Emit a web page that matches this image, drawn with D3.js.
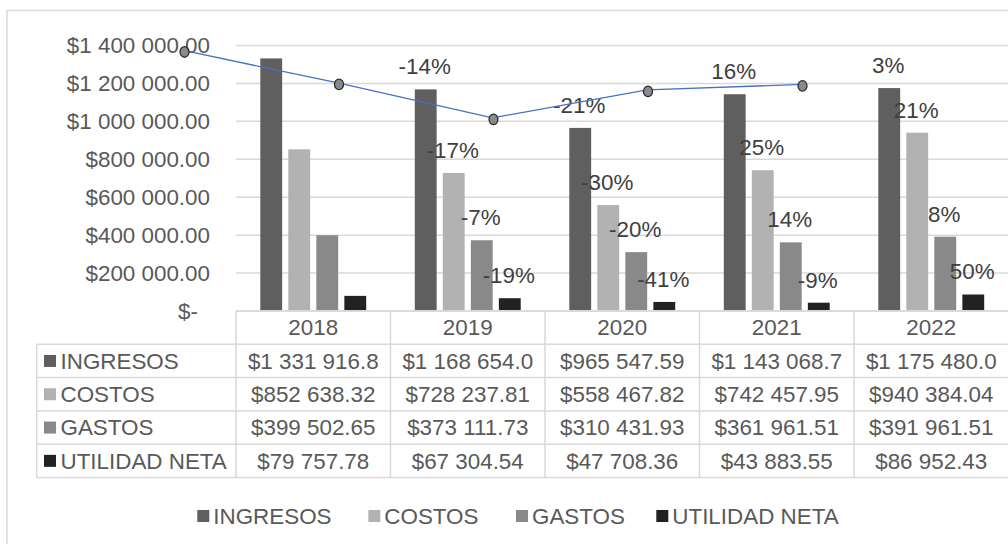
<!DOCTYPE html>
<html>
<head>
<meta charset="utf-8">
<script src="https://cdn.jsdelivr.net/npm/d3@7"></script>
<style>
  body { margin: 0; background: #fff; }
  svg text { font-family: "Liberation Sans", Arial, sans-serif; fill: #595959; }
  svg text.pct { fill: #404040; }
</style>
</head>
<body>
<svg id="chart" width="1008" height="544"></svg>
<script>
'use strict'

const years = ["2018", "2019", "2020", "2021", "2022"]
const series = ["INGRESOS", "COSTOS", "GASTOS", "UTILIDAD NETA"]
const ingresos = [1331916.80, 1168654.00, 965547.59, 1143068.70, 1175480.00]
const costos = [852638.32, 728237.81, 558467.82, 742457.95, 940384.04]
const gastos = [399502.65, 373111.73, 310431.93, 361961.51, 391961.51]
const utilidad = [79757.78, 67304.54, 47708.36, 43883.55, 86952.43]
// variacion anual (%) mostrada sobre cada barra
const pctIngresos = [null, -14, -21, 16, 3]
const pctCostos = [null, -17, -30, 25, 21]
const pctGastos = [null, -7, -20, 14, 8]
const pctUtilidad = [null, -19, -41, -9, 50]
// linea azul
const tendencia = [1373700, 1202600, 1018400, 1165800, 1194700]
const yTicks = [0, 200000, 400000, 600000, 800000, 1000000, 1200000, 1400000]

const colors = ["#5f5f5f", "#b2b2b2", "#898989", "#222222"]
const values = [ingresos, costos, gastos, utilidad]
const pcts = [pctIngresos, pctCostos, pctGastos, pctUtilidad]

const fontSize = 22.4
const svg = d3.select("#chart")
const grid = "#d9d9d9"

// marco exterior
svg.append("rect")
  .attr("x", 7).attr("y", 10.5).attr("width", 1100).attr("height", 600)
  .attr("fill", "none").attr("stroke", grid).attr("stroke-width", 1.5)

const loc = d3.formatLocale({ decimal: ".", thousands: " ", grouping: [3], currency: ["$", ""] })
const money = loc.format("$,.2f")

let x0 = d3.scaleBand().domain(years).range([236, 1008.5])
let x1 = d3.scaleBand().domain(series).range([24.3, x0.bandwidth() - 24.3]).paddingInner(0.22)
let y = d3.scaleLinear().domain([0, 1400000]).range([311, 45.5])

// lineas de cuadricula
svg.append("g").selectAll("line")
  .data(yTicks.filter(d => d > 0))
  .join("line")
  .attr("x1", 236).attr("x2", 1008)
  .attr("y1", d => y(d)).attr("y2", d => y(d))
  .attr("stroke", grid).attr("stroke-width", 1.5)

// eje y
let yAxis = svg.append("g")
  .attr("transform", "translate(210,0)")
  .call(d3.axisLeft(y).tickValues(yTicks).tickSize(0).tickPadding(0)
    .tickFormat(d => d === 0 ? "$-" : money(d)))
yAxis.select(".domain").remove()
yAxis.selectAll("text")
  .attr("font-size", fontSize)
  .attr("font-family", null)
  .attr("dx", d => d === 0 ? -12 : 0)

// barras
let groups = svg.append("g").selectAll("g")
  .data(years)
  .join("g")
  .attr("transform", d => `translate(${x0(d)},0)`)

groups.selectAll("rect")
  .data((d, i) => series.map((s, k) => ({ s, k, v: values[k][i] })))
  .join("rect")
  .attr("x", d => x1(d.s))
  .attr("width", x1.bandwidth())
  .attr("y", d => y(d.v))
  .attr("height", d => y(0) - y(d.v) - 0.5)
  .attr("fill", d => colors[d.k])

// eje x (linea base)
svg.append("line")
  .attr("x1", 236).attr("x2", 1008)
  .attr("y1", y(0)).attr("y2", y(0))
  .attr("stroke", grid).attr("stroke-width", 1.5)

// linea azul con marcadores
const lineaDx = -52.5
let linePts = tendencia.map((v, i) => [x0(years[i]) + lineaDx, y(v)])
svg.append("path")
  .attr("d", d3.line()(linePts))
  .attr("fill", "none").attr("stroke", "#4472c4").attr("stroke-width", 1.3)
svg.append("g").selectAll("ellipse")
  .data(linePts)
  .join("ellipse")
  .attr("cx", d => d[0] + 1).attr("cy", d => d[1] + 1.5)
  .attr("rx", 4.5).attr("ry", 5.3)
  .attr("fill", "#8a8a8a").attr("stroke", "#262626").attr("stroke-width", 1.2)

// etiquetas de porcentaje
groups.selectAll("text.pct")
  .data((d, i) => series.map((s, k) => ({ s, k, v: values[k][i], p: pcts[k][i] })).filter(d => d.p !== null))
  .join("text")
  .attr("class", "pct")
  .attr("x", d => x1(d.s) + x1.bandwidth() / 2 - 1)
  .attr("y", d => y(d.v) - 23)
  .attr("dy", "0.35em")
  .attr("text-anchor", "middle")
  .attr("font-size", fontSize)
  .text(d => d.p + "%")

// tabla de datos
const rowH = 33.3
const tTop = 311
const tLeft = 36.7
let table = svg.append("g")

// fila de encabezado
table.append("line").attr("x1", 236).attr("x2", 1008).attr("y1", tTop).attr("y2", tTop)
  .attr("stroke", grid).attr("stroke-width", 1.5)
for (let r = 1; r <= series.length + 1; r++) {
  table.append("line").attr("x1", tLeft).attr("x2", 1008)
    .attr("y1", tTop + r * rowH).attr("y2", tTop + r * rowH)
    .attr("stroke", grid).attr("stroke-width", 1.5)
}
table.append("line").attr("x1", tLeft).attr("x2", tLeft)
  .attr("y1", tTop + rowH).attr("y2", tTop + rowH * 5)
  .attr("stroke", grid).attr("stroke-width", 1.5)
table.selectAll("line.v")
  .data(years)
  .join("line")
  .attr("class", "v")
  .attr("x1", d => x0(d)).attr("x2", d => x0(d))
  .attr("y1", tTop).attr("y2", tTop + rowH * 5)
  .attr("stroke", grid).attr("stroke-width", 1.5)

table.selectAll("text.year")
  .data(years)
  .join("text")
  .attr("class", "year")
  .attr("x", d => x0(d) + x0.bandwidth() / 2)
  .attr("y", tTop + rowH / 2)
  .attr("dy", "0.35em")
  .attr("text-anchor", "middle")
  .attr("font-size", fontSize)
  .text(d => d)

series.forEach((s, k) => {
  let cy = tTop + rowH * (k + 1) + rowH / 2
  table.append("rect").attr("x", 44).attr("y", cy - 6).attr("width", 12).attr("height", 12)
    .attr("fill", colors[k])
  table.append("text").attr("x", 60.5).attr("y", cy).attr("dy", "0.35em")
    .attr("font-size", fontSize).text(s)
  years.forEach((yr, i) => {
    let t = table.append("text")
      .attr("x", x0(yr) + x0.bandwidth() / 2).attr("y", cy).attr("dy", "0.35em")
      .attr("text-anchor", "middle").attr("font-size", fontSize)
    let str = money(values[k][i])
    t.text(str)
    // Excel corta el texto si no cabe en la celda
    while (t.node().getComputedTextLength() > x0.bandwidth() - 14) {
      str = str.slice(0, -1)
      t.text(str)
    }
  })
})

// leyenda
const legendX = [197.3, 368.3, 516, 656.3]
let legend = svg.append("g").selectAll("g")
  .data(series)
  .join("g")
  .attr("transform", (d, i) => `translate(${legendX[i]},516)`)
legend.append("rect").attr("x", 0).attr("y", -6).attr("width", 12).attr("height", 12)
  .attr("fill", (d, i) => colors[i])
legend.append("text").attr("x", 16).attr("dy", "0.35em")
  .attr("font-size", fontSize).text(d => d)
</script>
</body>
</html>
